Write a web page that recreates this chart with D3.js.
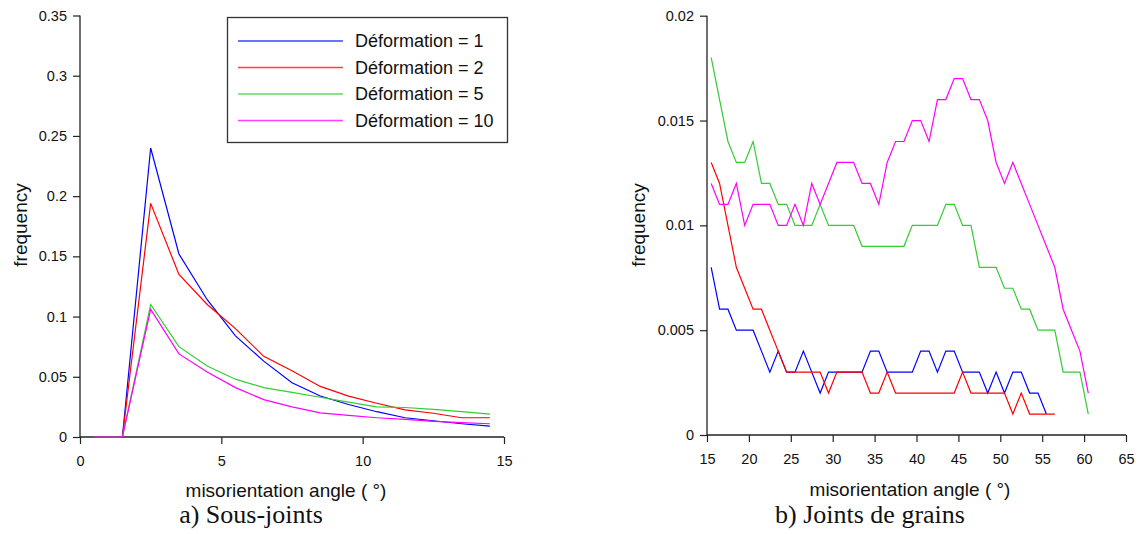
<!DOCTYPE html>
<html><head><meta charset="utf-8">
<script src="https://cdn.jsdelivr.net/npm/d3@7"></script>
<style>
body{margin:0;background:#fff;}
svg{display:block;}
text{font-family:"Liberation Sans",Arial,sans-serif;fill:#111;}
</style></head>
<body>
<svg id="c" width="1141" height="534"></svg>
<script>
// ---- Data ----
const seriesNames = ["Déformation = 1","Déformation = 2","Déformation = 5","Déformation = 10"];
const seriesColors = ["#0000ff","#ff0000","#33cc33","#ff00ff"];

// a) Sous-joints
const angleA = [0.5,1.5,2.5,3.5,4.5,5.5,6.5,7.5,8.5,9.5,10.5,11.5,12.5,13.5,14.5];
const subDef1  = [0,0,0.240,0.152,0.114,0.084,0.063,0.045,0.034,0.027,0.021,0.016,0.0135,0.011,0.009];
const subDef2  = [0,0,0.194,0.135,0.110,0.090,0.067,0.055,0.042,0.034,0.028,0.0225,0.0197,0.016,0.016];
const subDef5  = [0,0,0.110,0.075,0.059,0.048,0.041,0.037,0.033,0.029,0.025,0.0245,0.023,0.021,0.019];
const subDef10 = [0,0,0.106,0.069,0.054,0.041,0.031,0.025,0.020,0.018,0.016,0.0146,0.013,0.012,0.011];

// b) Joints de grains (x = 15.5, 16.5, ...)
const angleB = [15.5,16.5,17.5,18.5,19.5,20.5,21.5,22.5,23.5,24.5,25.5,26.5,27.5,28.5,29.5,30.5,31.5,32.5,33.5,34.5,35.5,36.5,37.5,38.5,39.5,40.5,41.5,42.5,43.5,44.5,45.5,46.5,47.5,48.5,49.5,50.5,51.5,52.5,53.5,54.5,55.5,56.5,57.5,58.5,59.5,60.5];
const gbDef1  = [0.008,0.006,0.006,0.005,0.005,0.005,0.004,0.003,0.004,0.003,0.003,0.004,0.003,0.002,0.003,0.003,0.003,0.003,0.003,0.004,0.004,0.003,0.003,0.003,0.003,0.004,0.004,0.003,0.004,0.004,0.003,0.003,0.003,0.002,0.003,0.002,0.003,0.003,0.002,0.002,0.001];
const gbDef2  = [0.013,0.012,0.010,0.008,0.007,0.006,0.006,0.005,0.004,0.003,0.003,0.003,0.003,0.003,0.002,0.003,0.003,0.003,0.003,0.002,0.002,0.003,0.002,0.002,0.002,0.002,0.002,0.002,0.002,0.002,0.003,0.002,0.002,0.002,0.002,0.002,0.001,0.002,0.001,0.001,0.001,0.001];
const gbDef5  = [0.018,0.016,0.014,0.013,0.013,0.014,0.012,0.012,0.011,0.011,0.010,0.010,0.010,0.011,0.010,0.010,0.010,0.010,0.009,0.009,0.009,0.009,0.009,0.009,0.010,0.010,0.010,0.010,0.011,0.011,0.010,0.010,0.008,0.008,0.008,0.007,0.007,0.006,0.006,0.005,0.005,0.005,0.003,0.003,0.003,0.001];
const gbDef10 = [0.012,0.011,0.011,0.012,0.010,0.011,0.011,0.011,0.010,0.010,0.011,0.010,0.012,0.011,0.012,0.013,0.013,0.013,0.012,0.012,0.011,0.013,0.014,0.014,0.015,0.015,0.014,0.016,0.016,0.017,0.017,0.016,0.016,0.015,0.013,0.012,0.013,0.012,0.011,0.010,0.009,0.008,0.006,0.005,0.004,0.002];

const ticksA_x = [0,5,10,15];
const ticksA_y = [0,0.05,0.1,0.15,0.2,0.25,0.3,0.35];
const ticksB_x = [15,20,25,30,35,40,45,50,55,60,65];
const ticksB_y = [0,0.005,0.01,0.015,0.02];

const svg = d3.select("#c");

function panel(cfg){
  const g = svg.append("g");
  const x = d3.scaleLinear().domain(cfg.xDomain).range(cfg.xRange);
  const y = d3.scaleLinear().domain(cfg.yDomain).range(cfg.yRange);
  const fmt = v => String(+v.toFixed(4));
  const xa = g.append("g").attr("transform",`translate(0,${cfg.yRange[0]})`)
    .call(d3.axisBottom(x).tickValues(cfg.xTicks).tickSize(7).tickPadding(12).tickFormat(fmt));
  const ya = g.append("g").attr("transform",`translate(${cfg.xRange[0]},0)`)
    .call(d3.axisLeft(y).tickValues(cfg.yTicks).tickSize(7).tickPadding(6).tickFormat(fmt));
  [xa,ya].forEach(a=>{
    a.select(".domain").attr("stroke","#222").attr("stroke-width",1.3);
    a.selectAll(".tick line").attr("stroke","#222").attr("stroke-width",1.2);
    a.selectAll(".tick text").attr("font-size","14.5px").attr("fill","#111")
     .style("font-family","'Liberation Sans',Arial,sans-serif");
  });
  xa.select(".domain").attr("d",`M${cfg.xRange[0]},0H${cfg.xRange[1]}`);
  ya.select(".domain").attr("d",`M0,${cfg.yRange[0]}V${cfg.yRange[1]}`);

  const line = d3.line().x(d=>x(d[0])).y(d=>y(d[1]));
  cfg.series.forEach((s,i)=>{
    const pts = s.map((v,j)=>[cfg.xs[j],v]);
    g.append("path").attr("d",line(pts)).attr("fill","none")
      .attr("stroke",seriesColors[i]).attr("stroke-width",1.2);
  });

  g.append("text").attr("x",cfg.xLabelX).attr("y",cfg.xLabelY)
    .attr("text-anchor","middle").attr("font-size","19px").text("misorientation angle ( °)");
  g.append("text").attr("transform",`translate(${cfg.yLabelX},${cfg.yLabelY}) rotate(-90)`)
    .attr("text-anchor","middle").attr("font-size","19px").text("frequency");
  g.append("text").attr("x",cfg.capX).attr("y",cfg.capY).attr("text-anchor","middle")
    .attr("font-size","26px").style("font-family","'Liberation Serif','Times New Roman',serif")
    .text(cfg.caption);
  return {x,y,g};
}

panel({
  xDomain:[0,15], xRange:[80,504], yDomain:[0,0.35], yRange:[437,15.5],
  xTicks:ticksA_x, yTicks:ticksA_y, xs:angleA,
  series:[subDef1,subDef2,subDef5,subDef10],
  xLabelX:286, xLabelY:497, yLabelX:27, yLabelY:225,
  capX:251, capY:523, caption:"a) Sous-joints"
});

panel({
  xDomain:[15,65], xRange:[707,1126], yDomain:[0,0.02], yRange:[435,15.7],
  xTicks:ticksB_x, yTicks:ticksB_y, xs:angleB,
  series:[gbDef1,gbDef2,gbDef5,gbDef10],
  xLabelX:910, xLabelY:496, yLabelX:645, yLabelY:225,
  capX:870, capY:523, caption:"b) Joints de grains"
});

// legend (panel a)
const lg = svg.append("g");
lg.append("rect").attr("x",227.5).attr("y",17.5).attr("width",280).attr("height",125)
  .attr("fill","#fff").attr("stroke","#333").attr("stroke-width",1.3);
seriesNames.forEach((n,i)=>{
  const yy = 41 + i*26.5;
  lg.append("line").attr("x1",238).attr("x2",343).attr("y1",yy).attr("y2",yy)
    .attr("stroke",seriesColors[i]).attr("stroke-width",1.3).attr("stroke-opacity",0.75);
  lg.append("text").attr("x",355).attr("y",yy).attr("dy","0.35em")
    .attr("font-size","18px").text(n);
});
</script>
</body></html>
